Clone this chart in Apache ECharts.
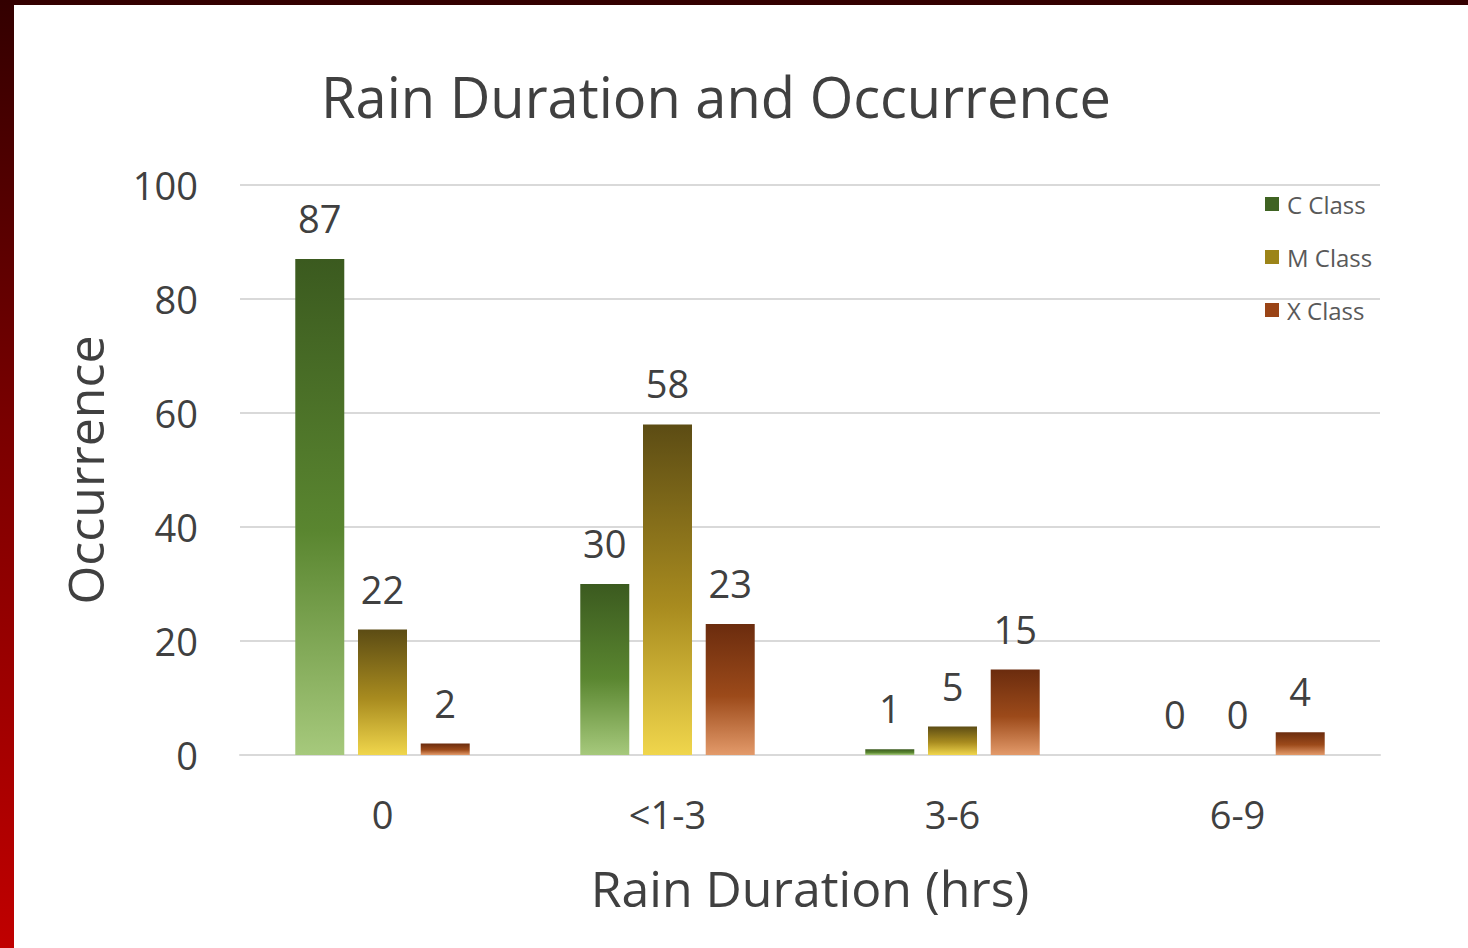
<!DOCTYPE html>
<html>
<head>
<meta charset="utf-8">
<script src="https://cdn.jsdelivr.net/npm/echarts@6/dist/echarts.min.js"></script>
<style>
  html, body { margin: 0; padding: 0; width: 1468px; height: 948px; overflow: hidden; }
  /* dark red slide frame: thin top strip, left strip fading to bright red */
  body { background: linear-gradient(to bottom, #330000 0%, #7a0000 45%, #c00000 100%); position: relative; }
  #chart { position: absolute; left: 14px; top: 5px; width: 1454px; height: 943px; background: #fff; }
</style>
</head>
<body>
<div id="chart"></div>
<script>
  const categories = ['0', '<1-3', '3-6', '6-9'];
  const cClass = [87, 30, 1, 0];
  const mClass = [22, 58, 5, 0];
  const xClass = [2, 23, 15, 4];
  const yTicks = { min: 0, max: 100, interval: 20 };

  const FONT = '"Open Sans", sans-serif';
  const TEXT = '#404040';

  // vertical gradient per bar: dark at the top, light at the base
  const grad = (top, mid, bottom) => new echarts.graphic.LinearGradient(0, 0, 0, 1, [
    { offset: 0, color: top }, { offset: 0.55, color: mid }, { offset: 1, color: bottom },
  ]);
  const C_FILL = grad('#3b5a1f', '#5a8630', '#a6c97c');
  const M_FILL = grad('#5c4c14', '#a88b1f', '#f0d64c');
  const X_FILL = grad('#6b2c0e', '#9c4a1a', '#e39a6a');

  function barSeries(name, data, fill) {
    return {
      name, type: 'bar', data,
      barWidth: 49, barGap: '28%',
      itemStyle: { color: fill },
      label: {
        show: true, position: 'top', distance: 22,
        color: TEXT, fontFamily: FONT, fontSize: 38,
      },
      emphasis: { disabled: true },
    };
  }

  const chart = echarts.init(document.getElementById('chart'), null, { renderer: 'svg' });
  chart.setOption({
    animation: false,
    title: {
      text: 'Rain Duration and Occurrence',
      left: 697, top: 58, textAlign: 'center',
      textStyle: { color: TEXT, fontFamily: FONT, fontSize: 56, fontWeight: 'normal' },
    },
    legend: {
      orient: 'vertical', left: 1246, top: 182,
      itemWidth: 14, itemHeight: 14, itemGap: 29, icon: 'rect',
      textStyle: { color: '#595959', fontFamily: FONT, fontSize: 24, padding: [0, 0, 0, 3] },
      data: [
        { name: 'C Class', itemStyle: { color: '#3f6322' } },
        { name: 'M Class', itemStyle: { color: '#9c8418' } },
        { name: 'X Class', itemStyle: { color: '#9a4416' } },
      ],
    },
    grid: { left: 226, top: 180, width: 1140, height: 570 },
    xAxis: {
      type: 'category', data: categories,
      name: 'Rain Duration (hrs)', nameLocation: 'middle', nameGap: 108,
      nameTextStyle: { color: TEXT, fontFamily: FONT, fontSize: 50 },
      axisLine: { lineStyle: { color: '#d9d9d9', width: 2 } },
      axisTick: { show: false },
      axisLabel: { color: TEXT, fontFamily: FONT, fontSize: 38, margin: 40 },
    },
    yAxis: {
      type: 'value', min: yTicks.min, max: yTicks.max, interval: yTicks.interval,
      name: 'Occurrence', nameLocation: 'middle', nameGap: 130,
      nameTextStyle: { color: TEXT, fontFamily: FONT, fontSize: 50 },
      axisLine: { show: false }, axisTick: { show: false },
      axisLabel: { color: TEXT, fontFamily: FONT, fontSize: 38, margin: 42 },
      splitLine: { lineStyle: { color: '#d9d9d9', width: 2 } },
    },
    series: [
      barSeries('C Class', cClass, C_FILL),
      barSeries('M Class', mClass, M_FILL),
      barSeries('X Class', xClass, X_FILL),
    ],
  });
</script>
</body>
</html>
